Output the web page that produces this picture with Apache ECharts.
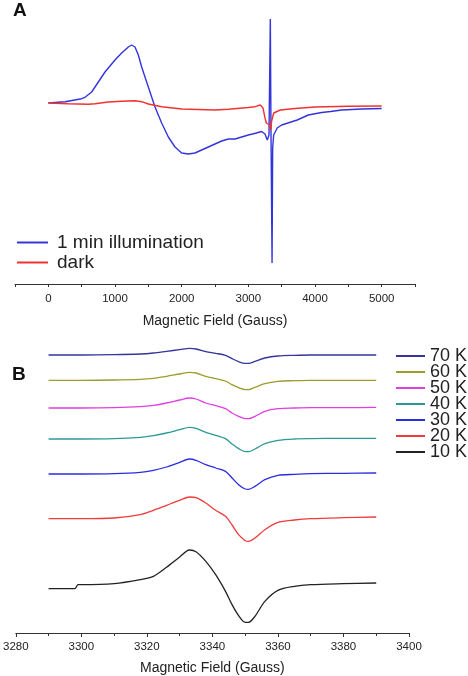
<!DOCTYPE html>
<html>
<head>
<meta charset="utf-8">
<script src="https://cdn.jsdelivr.net/npm/echarts@6/dist/echarts.min.js"></script>
<style>
html,body{margin:0;padding:0;background:#fff;}
#chart{width:468px;height:676px;}
</style>
</head>
<body>
<div id="chart"></div>
<script>
// ---------- Panel A: wide-field EPR (arbitrary intensity units) ----------
var aLabels = ['1 min illumination', 'dark'];
var illumField = [0, 250, 500, 550, 650, 750, 850, 1000, 1100, 1200, 1250, 1300, 1350, 1400, 1500, 1600, 1700, 1800, 1900, 2000, 2100, 2200, 2400, 2600, 2700, 2800, 2900, 3000, 3063, 3120, 3200, 3250, 3284, 3310, 3330, 3340, 3356, 3365, 3380, 3433, 3500, 3733, 3900, 4100, 4234, 4400, 4700, 5000];
var illumSignal = [0, 1.3, 4.3, 5.7, 11, 21, 31, 43, 50, 56, 58, 56, 48, 36, 16, -4, -20, -34, -44, -50, -51, -50, -44, -38, -36, -36, -34, -32, -31, -30, -28.5, -31, -37, -32, 84, -30, -160, -45, -32, -25, -22, -17, -12, -9.5, -8.5, -7, -6, -5.5];
var darkField = [0, 300, 600, 700, 900, 1100, 1300, 1400, 1500, 1700, 2000, 2500, 2700, 3000, 3100, 3180, 3220, 3250, 3270, 3300, 3320, 3335, 3350, 3380, 3480, 3700, 4000, 4500, 5000];
var darkSignal = [0, -0.7, -1.3, -0.7, 1, 1.7, 2.3, 1.3, -1, -3.7, -6, -7, -6.3, -4.5, -3.7, -2, -5, -15, -20, -20, -22, -27, -18, -10, -7, -5.5, -4, -3.3, -3];
var aTicks = [0, 1000, 2000, 3000, 4000, 5000];

// ---------- Panel B: temperature series (stacked offsets, arbitrary units) ----------
var bField = [3290, 3298, 3299, 3300, 3310, 3318, 3322, 3326, 3330, 3333, 3335, 3338, 3341, 3344, 3346, 3348, 3350, 3351, 3353, 3356, 3360, 3365, 3370, 3380, 3390];
var bNames = ['70 K', '60 K', '50 K', '40 K', '30 K', '20 K', '10 K'];
var s70K = [834, 834, 834, 834, 835, 837, 840, 845, 850, 854, 852, 844, 839, 833, 823, 814, 809, 809, 815, 825, 831, 833, 834, 834, 834];
var s60K = [758, 758, 758, 758, 759, 761, 764, 770, 777, 782, 780, 770, 763, 756, 745, 736, 730, 730, 737, 748, 755, 757, 758, 758, 758];
var s50K = [675, 675, 675, 675, 676, 679, 683, 690, 699, 705, 702, 690, 682, 673, 660, 650, 643, 643, 650, 665, 673, 675, 676, 676, 677];
var s40K = [582, 582, 582, 582, 583, 587, 592, 600, 610, 617, 614, 602, 593, 583, 567, 553, 544, 544, 552, 568, 578, 582, 583, 584, 584];
var s30K = [477, 477, 477, 477, 478, 482, 488, 498, 512, 522, 518, 505, 495, 485, 465, 445, 432, 431, 440, 460, 473, 476, 478, 479, 480];
var s20K = [343, 343, 343, 343, 345, 355, 368, 383, 398, 408, 406, 390, 368, 350, 324, 295, 277, 275, 285, 310, 332, 339, 343, 346, 348];
var s10K = [133, 133, 145, 145, 148, 160, 170, 197, 228, 249, 244, 215, 175, 125, 85, 52, 32, 32, 50, 95, 128, 140, 145, 148, 150];
var bTicks = [3280, 3300, 3320, 3340, 3360, 3380, 3400];

var bColors = ['#34349a', '#9e9d2c', '#e03ee0', '#2b9a96', '#2c2cdf', '#f03b3b', '#222222'];
var bValues = [s70K, s60K, s50K, s40K, s30K, s20K, s10K];

function zip(xs, ys) { return xs.map(function (x, i) { return [x, ys[i]]; }); }

var FONT = '"Liberation Sans", Arial, Helvetica, sans-serif';

var series = [
  { name: aLabels[0], type: 'line', xAxisIndex: 0, yAxisIndex: 0, data: zip(illumField, illumSignal),
    showSymbol: false, smooth: false, lineStyle: { color: '#3434dc', width: 1.4 }, itemStyle: { color: '#3434dc' } },
  { name: aLabels[1], type: 'line', xAxisIndex: 0, yAxisIndex: 0, data: zip(darkField, darkSignal),
    showSymbol: false, smooth: false, lineStyle: { color: '#f03232', width: 1.4 }, itemStyle: { color: '#f03232' } }
];
bNames.forEach(function (n, i) {
  series.push({ name: n, type: 'line', xAxisIndex: 1, yAxisIndex: 1, data: zip(bField, bValues[i]),
    showSymbol: false, smooth: 0.3, lineStyle: { color: bColors[i], width: 1.3 }, itemStyle: { color: bColors[i] } });
});

var axisLine = { show: true, onZero: false, lineStyle: { color: '#333', width: 1 } };

var option = {
  animation: false,
  backgroundColor: '#fff',
  textStyle: { fontFamily: FONT },
  title: [
    { text: 'A', left: 13, top: 1, padding: 0, textStyle: { fontSize: 19, fontWeight: 'bold', color: '#111', fontFamily: FONT } },
    { text: 'B', left: 12, top: 365, padding: 0, textStyle: { fontSize: 19, fontWeight: 'bold', color: '#111', fontFamily: FONT } }
  ],
  legend: [
    { data: aLabels, orient: 'vertical', left: 17, top: 233, padding: 0, itemGap: 1, itemWidth: 31, itemHeight: 2,
      icon: 'rect', textStyle: { fontSize: 19, color: '#222', padding: [0, 0, 0, 4], fontFamily: FONT } },
    { data: bNames, orient: 'vertical', left: 396, top: 347, padding: 0, itemGap: -2, itemWidth: 29, itemHeight: 2,
      icon: 'rect', textStyle: { fontSize: 18, color: '#222', fontFamily: FONT } }
  ],
  grid: [
    { left: 15, width: 400, top: 10, height: 274 },
    { left: 13, width: 396, top: 340, height: 293 }
  ],
  xAxis: [
    { gridIndex: 0, type: 'value', min: -500, max: 5500, interval: 500,
      name: 'Magnetic Field (Gauss)', nameLocation: 'middle', nameGap: 30,
      nameTextStyle: { fontSize: 14, color: '#222', fontFamily: FONT },
      axisLine: axisLine, axisTick: { show: true, length: 3, lineStyle: { color: '#333' } },
      splitLine: { show: false },
      axisLabel: { margin: 9, fontSize: 11.5, color: '#222', fontFamily: FONT,
        formatter: function (v) { return aTicks.indexOf(v) >= 0 ? String(v) : ''; } } },
    { gridIndex: 1, type: 'value', min: 3280, max: 3400, interval: 20,
      name: 'Magnetic Field (Gauss)', nameLocation: 'middle', nameGap: 28,
      nameTextStyle: { fontSize: 14, color: '#222', fontFamily: FONT },
      axisLine: axisLine, axisTick: { show: true, length: 4, lineStyle: { color: '#333' } },
      minorTick: { show: true, splitNumber: 2, length: 3, lineStyle: { color: '#333' } },
      splitLine: { show: false },
      axisLabel: { margin: 8, fontSize: 11.5, color: '#222', fontFamily: FONT,
        showMinLabel: true, showMaxLabel: true,
        formatter: function (v) { return bTicks.indexOf(v) >= 0 ? String(v) : ''; } } }
  ],
  yAxis: [
    { gridIndex: 0, type: 'value', min: -181, max: 93, show: false, splitLine: { show: false } },
    { gridIndex: 1, type: 'value', min: 0, max: 879, show: false, splitLine: { show: false } }
  ],
  series: series
};

var chart = echarts.init(document.getElementById('chart'), null, { renderer: 'canvas' });
chart.setOption(option);
</script>
</body>
</html>
